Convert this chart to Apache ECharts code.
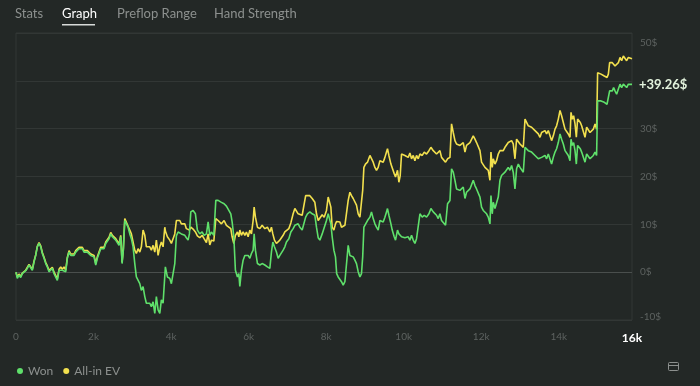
<!DOCTYPE html>
<html>
<head>
<meta charset="utf-8">
<script src="https://cdn.jsdelivr.net/npm/echarts@6/dist/echarts.min.js"></script>
<style>
  html, body { margin: 0; padding: 0; background: #232826; }
  #chart { width: 700px; height: 386px; }
</style>
</head>
<body>
<div id="chart"></div>
<script>
// hands played (x)
var hands = [
  0,34,77,121,163,206,250,292,336,379,
  421,465,508,550,594,638,679,723,767,808,
  852,896,937,981,1025,1066,1110,1154,1195,1239,
  1283,1324,1368,1412,1453,1497,1541,1582,1626,1670,
  1711,1755,1799,1840,1884,1928,1969,2013,2057,2098,
  2142,2186,2227,2271,2315,2356,2400,2444,2485,2529,
  2573,2615,2658,2702,2736,2769,2806,2847,2891,2935,
  2976,3020,3064,3105,3149,3193,3234,3278,3322,3363,
  3407,3451,3492,3536,3580,3621,3665,3709,3750,3794,
  3838,3853,3905,3967,4008,4052,4096,4137,4181,4225,
  4266,4310,4354,4395,4439,4473,4509,4568,4628,4679,
  4741,4801,4852,4912,4956,4999,5041,5103,5154,5214,
  5299,5368,5428,5472,5541,5575,5619,5660,5712,5748,
  5774,5815,5859,5903,5944,5988,6032,6073,6117,6143,
  6176,6228,6290,6349,6419,6486,6548,6589,6625,6667,
  6718,6762,6806,6847,6891,6935,6976,7038,7090,7149,
  7193,7234,7278,7322,7382,7433,7472,7518,7580,7640,
  7709,7751,7795,7838,7898,7949,8009,8053,8097,8122,
  8156,8200,8241,8272,8311,8355,8396,8440,8484,8525,
  8569,8613,8654,8698,8742,8783,8827,8871,8912,8943,
  8974,9015,9067,9129,9170,9214,9258,9299,9343,9387,
  9428,9472,9516,9557,9583,9619,9671,9705,9756,9790,
  9841,9877,9911,9945,9988,10032,10074,10118,10161,10203,
  10247,10290,10332,10376,10420,10479,10531,10590,10652,10703,
  10763,10806,10848,10892,10935,10977,11021,11080,11132,11194,
  11235,11279,11323,11364,11408,11452,11493,11537,11581,11622,
  11666,11710,11751,11795,11839,11880,11924,11968,12009,12053,
  12097,12138,12182,12226,12252,12285,12311,12355,12396,12440,
  12484,12525,12569,12613,12654,12698,12742,12784,12827,12871,
  12913,12957,13000,13042,13086,13112,13130,13171,13215,13259,
  13300,13344,13388,13429,13473,13517,13558,13602,13646,13687,
  13731,13775,13816,13860,13904,13945,13989,14033,14074,14118,
  14162,14203,14247,14291,14317,14350,14384,14420,14454,14487,
  14523,14557,14591,14634,14678,14720,14763,14807,14849,14892,
  14936,14977,15003,15039,15091,15125,15176,15210,15246,15280,
  15313,15349,15383,15416,15452,15494,15538,15581,15623,15667,
  15711,15752,15796,15840,15890
];

// Won, $
var won = [
  0,-1.3,-0.6,-1.1,-0.3,-0.6,0.3,0.8,1.5,1.8,
  0.4,2.1,3.5,5.3,6.0,5.3,3.9,2.9,1.8,1.1,
  0.1,0.4,0.8,-0.3,0.1,-1.7,0.4,0.8,0.4,0.8,
  0.1,2.9,4.2,3.5,3.9,3.5,4.2,4.6,4.9,4.6,
  4.9,4.2,3.9,4.2,3.9,3.5,3.9,3.2,1.5,2.9,
  3.9,4.9,4.6,4.9,6.0,6.3,7.0,8.0,7.4,7.7,
  6.7,6.3,5.6,7.4,1.8,4.6,10.8,10.8,9.4,8.0,
  7.0,5.3,1.8,-1.0,-1.0,-2.4,-3.8,-3.0,-5.1,-6.5,
  -6.9,-6.5,-7.2,-6.2,-8.6,-5.1,-7.9,-8.6,-5.8,-6.5,
  -6.9,1.1,-1.0,-1.3,-2.4,-2.7,1.8,7.6,8.4,8.0,
  8.0,7.8,7.7,7.2,6.7,8.0,12.6,12.9,12.2,8.8,
  8.0,8.4,7.7,8.0,10.5,7.7,8.4,7.7,15.0,15.0,
  14.6,14.3,13.8,13.6,12.2,10.5,7.4,0.4,-1.0,-0.3,
  -3.0,0.4,2.5,3.5,3.1,3.5,2.9,3.9,4.6,8.0,
  4.6,1.8,1.5,1.8,1.5,1.1,0.8,4.2,6.3,5.3,
  4.2,2.9,3.5,3.2,4.6,5.3,6.3,7.0,8.4,9.1,
  9.8,9.4,10.1,9.4,8.8,8.4,11.5,12.2,12.6,12.2,
  11.9,9.4,7.2,6.7,8.0,8.4,10.8,12.2,12.6,10.1,
  7.4,4.6,3.2,-0.3,-1.0,-0.6,-2.0,-2.7,-2.0,-2.4,
  5.6,3.5,3.9,3.2,2.5,1.8,0.1,-1.0,-0.3,3.2,
  9.4,9.8,10.8,11.5,12.6,11.2,10.1,9.4,8.8,10.8,
  11.2,10.5,11.5,12.6,13.3,11.9,10.1,8.8,7.4,6.7,
  8.8,8.0,7.6,7.4,7.7,7.2,7.2,7.4,6.7,7.7,
  6.7,6.0,7.0,7.4,12.2,11.5,11.9,11.5,12.2,13.3,
  12.6,12.9,11.9,11.2,12.2,10.8,11.2,9.8,14.3,15.0,
  21.6,20.9,19.2,17.4,17.8,17.1,17.4,17.8,15.4,16.7,
  16.4,17.4,17.1,19.2,18.1,17.4,17.8,15.7,13.6,12.9,
  12.6,12.2,11.5,10.1,16.0,12.2,14.6,13.3,13.6,15.7,
  19.2,20.2,19.9,20.9,21.3,21.9,21.3,22.3,20.9,17.4,
  21.6,22.6,21.9,22.3,20.9,20.6,26.1,26.1,25.4,25.8,
  25.1,25.4,24.4,24.7,23.7,23.3,24.0,23.7,24.4,23.7,
  24.7,25.1,22.6,24.0,25.1,25.8,27.1,28.9,27.8,26.8,
  25.4,25.1,24.4,23.3,27.8,26.5,27.1,25.4,22.6,26.5,
  26.1,25.8,25.1,25.4,23.0,24.7,24.4,23.7,23.3,24.4,
  25.1,24.4,35.8,36.2,35.8,36.2,35.5,35.8,35.1,35.5,
  37.9,38.3,37.9,38.6,37.9,37.2,38.3,39.3,38.6,39.3,
  39.7,38.6,39.3,39.0,39.26
];

// All-in EV, $
var allInEv = [
  0,-1.0,-0.4,-0.9,-0.2,-0.4,0.4,1.0,1.6,2.0,
  0.6,2.3,3.6,5.4,6.2,5.5,4.1,3.1,2.0,1.3,
  0.4,0.6,1.0,0,0.3,-1.4,0.6,1.1,0.6,1.1,
  0.4,3.1,4.5,3.8,4.2,3.8,4.5,4.9,5.2,4.9,
  5.2,4.5,4.2,4.5,4.2,3.8,4.2,3.5,1.8,3.2,
  4.2,5.2,4.9,5.2,6.3,6.6,7.3,8.3,7.7,8.0,
  7.0,6.6,5.9,7.7,2.1,4.9,11.2,11.0,9.6,8.8,
  8.0,8.4,4.6,3.9,4.9,4.2,5.3,8.8,7.7,5.3,
  4.9,5.3,4.6,5.6,4.2,6.7,3.5,5.3,6.3,5.3,
  9.4,8.6,7.4,6.7,6.0,5.6,8.0,10.8,10.5,10.8,
  10.1,10.5,10.1,9.1,9.4,8.8,9.4,9.0,8.4,7.6,
  7.2,7.7,7.0,6.2,8.0,5.7,6.7,6.5,11.2,10.8,
  10.1,10.8,9.8,10.1,9.1,7.4,6.0,7.7,8.4,7.4,
  8.8,7.7,8.4,7.7,8.4,7.4,8.8,8.0,10.8,13.6,
  11.5,9.4,9.1,9.8,9.1,9.4,8.4,9.4,8.0,6.7,
  6.0,6.4,6.7,7.2,7.7,8.4,8.8,9.1,10.3,12.2,
  13.3,12.9,12.2,12.6,11.9,12.2,16.0,15.7,16.0,15.4,
  14.6,12.2,10.8,11.2,12.0,11.5,12.9,15.7,16.0,13.6,
  9.4,8.8,10.1,10.6,10.8,10.5,9.4,9.1,9.8,9.4,
  15.0,16.7,16.0,15.4,15.0,14.0,12.2,11.5,11.9,17.1,
  21.9,22.6,23.0,24.4,24.7,23.0,21.9,21.3,21.9,23.3,
  23.7,23.0,24.0,25.1,25.8,24.4,22.6,22.3,20.6,19.9,
  21.3,18.8,20.2,24.7,25.1,24.4,24.7,24.0,24.9,23.7,
  24.4,23.3,24.4,23.7,24.7,24.4,25.1,24.7,25.4,26.1,
  25.4,25.8,24.7,24.4,25.4,24.0,24.4,23.0,23.7,24.0,
  31.0,29.2,27.5,26.8,27.1,26.5,26.8,27.1,25.1,26.5,
  26.1,27.1,26.8,28.5,27.8,27.1,27.5,25.4,23.0,22.6,
  21.9,22.3,21.3,19.2,25.1,21.9,23.7,22.6,23.3,24.7,
  25.4,25.8,25.4,26.1,26.5,27.1,26.8,27.5,26.8,23.7,
  27.8,27.5,26.8,27.1,26.1,25.8,32.0,31.7,30.6,31.0,
  30.3,30.6,29.6,29.9,28.9,28.2,29.2,28.9,29.6,28.9,
  29.6,29.9,27.5,28.5,29.9,30.6,32.0,33.8,32.7,31.3,
  29.9,29.6,28.9,28.2,33.4,32.0,32.7,31.0,28.2,32.0,
  31.7,31.3,30.6,31.0,28.2,30.3,29.9,29.2,28.9,29.9,
  31.0,29.9,41.7,42.1,41.4,41.7,41.0,41.4,40.7,41.4,
  43.8,44.2,43.8,43.5,43.1,42.8,43.8,44.9,44.2,45.2,
  44.9,44.2,44.9,44.6,44.6
];

var seriesNames = ['Won', 'All-in EV'];
var tabs = ['Stats', 'Graph', 'Preflop Range', 'Hand Strength'];
var totalLabel = '16k';

var chart = echarts.init(document.getElementById('chart'));
var lastHand = hands[hands.length - 1];
var font = 'Lato, "Noto Sans", sans-serif';

function pairs(vals) {
  return hands.map(function (h, i) { return [h, vals[i]]; });
}

var tabX = [15, 62, 117, 214];
var grey = '#8c908e';

chart.setOption({
  backgroundColor: '#232826',
  textStyle: { fontFamily: font },
  animation: false,
  grid: {
    left: 16, right: 68, top: 33, bottom: 66,
    show: true,
    borderColor: '#323735',
    borderWidth: 1
  },
  legend: {
    data: seriesNames,
    left: 12, top: 360,
    icon: 'circle',
    itemWidth: 6, itemHeight: 6,
    itemGap: 10,
    textStyle: { color: grey, fontSize: 12, fontFamily: font }
  },
  xAxis: {
    type: 'value',
    min: 0,
    max: lastHand,
    interval: 2000,
    axisLine: { show: false },
    axisTick: { show: false },
    splitLine: { show: false },
    axisLabel: {
      color: '#5d6260',
      fontSize: 10,
      margin: 12,
      showMaxLabel: true,
      formatter: function (v) {
        if (v === lastHand) return '{end|' + totalLabel + '}';
        return v === 0 ? '0' : (v / 1000) + 'k';
      },
      rich: {
        end: { color: '#ffffff', fontSize: 12, fontWeight: 'bold', fontFamily: font }
      }
    }
  },
  yAxis: {
    type: 'value',
    position: 'right',
    min: -10,
    max: 50,
    interval: 10,
    axisLine: { show: false },
    axisTick: { show: false },
    axisLabel: {
      color: '#5d6260',
      fontSize: 10,
      margin: 8,
      formatter: function (v) {
        if (v === 40) return '';
        if (v === 50) return '{top|' + v + '$}';
        if (v === -10) return '{bot|' + v + '$}';
        return v + '$';
      },
      rich: {
        top: { color: '#5d6260', fontSize: 10, padding: [20, 0, 0, 0] },
        bot: { color: '#5d6260', fontSize: 10, padding: [0, 0, 6, 0] }
      }
    },
    splitLine: {
      lineStyle: {
        color: ['#323735', '#4a4f4d', '#323735', '#323735', '#323735', '#323735', '#323735'],
        width: 1
      }
    }
  },
  series: [
    {
      name: seriesNames[0],
      type: 'line',
      data: pairs(won),
      showSymbol: false,
      z: 4,
      color: '#5fe06b',
      lineStyle: { width: 1.6, color: '#5fe06b' },
      endLabel: {
        show: true,
        distance: 7,
        color: '#e2f2dc',
        fontSize: 13,
        fontWeight: 'bold',
        formatter: function (p) { return '+' + p.value[1].toFixed(2) + '$'; }
      }
    },
    {
      name: seriesNames[1],
      type: 'line',
      data: pairs(allInEv),
      showSymbol: false,
      z: 3,
      color: '#f2e04e',
      lineStyle: { width: 1.6, color: '#f2e04e' }
    }
  ],
  graphic: [
    { type: 'text', left: tabX[0], top: 7, style: { text: tabs[0], fill: grey, font: '13px ' + font } },
    { type: 'text', left: tabX[1], top: 7, style: { text: tabs[1], fill: '#ffffff', font: '13px ' + font } },
    { type: 'text', left: tabX[2], top: 7, style: { text: tabs[2], fill: grey, font: '13px ' + font } },
    { type: 'text', left: tabX[3], top: 7, style: { text: tabs[3], fill: grey, font: '13px ' + font } },
    { type: 'rect', shape: { x: 62, y: 24, width: 33, height: 1.5 }, style: { fill: '#d8dbd9' } },
    { type: 'rect', shape: { x: 668.5, y: 362.5, width: 10, height: 8, r: 1 }, style: { fill: 'none', stroke: grey, lineWidth: 1 } },
    { type: 'line', shape: { x1: 669, y1: 365.5, x2: 678, y2: 365.5 }, style: { stroke: grey, lineWidth: 1 } }
  ]
});
</script>
</body>
</html>
